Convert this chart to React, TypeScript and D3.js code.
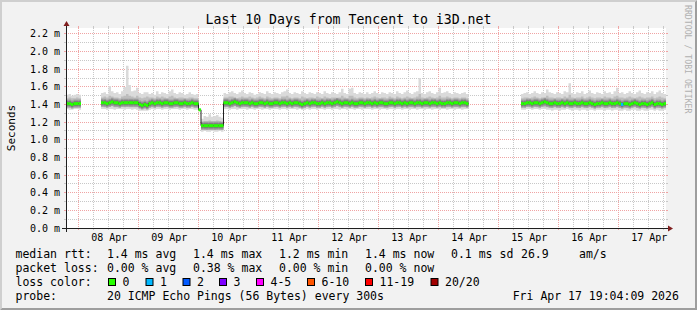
import React from "react";
import * as d3 from "d3";

const N = null;
// hourly slots starting at Apr 7 19:04:09 UTC (values in ms)
const median: (number | null)[] = [
  1.41,1.41,1.40,1.41,1.41,1.41, N,N,N,N,N,N,N,N, 1.42,1.42,1.41,1.42,1.43,1.42,1.42,1.41,1.42,1.42,
  1.42,1.42,1.42,1.42,1.42,1.40,1.39,1.40,1.39,1.41,1.42,1.41,1.42,1.42,1.41,1.42,1.42,1.41,1.41,1.42,1.42,1.41,1.41,1.42,
  1.41,1.41,1.42,1.41,1.41,1.34, 1.16,1.16,1.16,1.16,1.16,1.16,1.16,1.16,1.16, 1.42,1.42,1.41,1.42,1.43,1.42,1.41,1.42,1.42,
  1.42,1.41,1.42,1.41,1.41,1.42,1.42,1.41,1.42,1.41,1.41,1.42,1.42,1.41,1.42,1.42,1.41,1.42,1.41,1.42,1.42,1.41,1.40,1.41,
  1.42,1.41,1.42,1.42,1.41,1.41,1.42,1.41,1.42,1.42,1.41,1.42,1.43,1.42,1.41,1.42,1.42,1.41,1.42,1.41,1.41,1.42,1.42,1.41,
  1.42,1.42,1.41,1.42,1.41,1.42,1.42,1.41,1.41,1.42,1.42,1.41,1.42,1.42,1.41,1.42,1.41,1.42,1.42,1.41,1.42,1.42,1.41,1.42,
  1.42,1.41,1.42,1.42,1.41,1.42,1.41,1.41,1.42,1.42,1.41,1.42,1.42,1.41,1.42,1.42,1.41, N,N,N,N,N,N,N,
  N,N,N,N,N,N,N,N,N,N,N,N,N,N, 1.41,1.41,1.42,1.42,1.41,1.42,1.42,1.41,1.42,1.43,
  1.42,1.41,1.41,1.42,1.41,1.41,1.42,1.41,1.42,1.41,1.41,1.42,1.41,1.41,1.42,1.41,1.41,1.42,1.41,1.40,1.41,1.41,1.42,1.41,
  1.41,1.42,1.41,1.41,1.42,1.41,1.40,1.41,1.41,1.40,1.41,1.42,1.41,1.40,1.41,1.41,1.40,1.41,1.42,1.40,1.41,1.41,1.40,1.41,
];
const smokeMax: (number | null)[] = [
  1.51,1.52,1.50,1.51,1.52,1.51, N,N,N,N,N,N,N,N, 1.53,1.54,1.52,1.61,1.55,1.53,1.54,1.52,1.55,1.60,
  1.84,1.62,1.55,1.56,1.59,1.53,1.52,1.54,1.54,1.52,1.53,1.51,1.55,1.52,1.54,1.53,1.52,1.55,1.57,1.53,1.52,1.54,1.53,1.51,
  1.52,1.54,1.52,1.51,1.52,N, 1.24,1.27,1.26,1.29,1.26,1.27,1.28,1.26,1.25, 1.53,1.52,1.54,1.55,1.53,1.52,1.54,1.56,1.53,
  1.52,1.54,1.53,1.51,1.52,1.54,1.53,1.52,1.55,1.53,1.52,1.54,1.53,1.52,1.54,1.55,1.57,1.53,1.52,1.54,1.53,1.52,1.55,1.53,
  1.52,1.54,1.53,1.52,1.54,1.53,1.52,1.55,1.53,1.52,1.54,1.53,1.52,1.54,1.58,1.53,1.52,1.58,1.59,1.53,1.52,1.54,1.53,1.52,
  1.54,1.52,1.53,1.55,1.53,1.52,1.54,1.53,1.52,1.54,1.53,1.52,1.55,1.53,1.52,1.54,1.56,1.53,1.52,1.54,1.55,1.70,1.53,1.52,
  1.54,1.55,1.53,1.52,1.54,1.59,1.53,1.54,1.55,1.53,1.52,1.54,1.53,1.52,1.53,1.54,1.52, N,N,N,N,N,N,N,
  N,N,N,N,N,N,N,N,N,N,N,N,N,N, 1.52,1.53,1.54,1.52,1.53,1.55,1.53,1.52,1.54,1.53,
  1.57,1.54,1.53,1.52,1.54,1.53,1.52,1.55,1.54,1.64,1.53,1.52,1.54,1.53,1.55,1.52,1.53,1.56,1.53,1.52,1.54,1.53,1.52,1.55,
  1.53,1.54,1.52,1.55,1.59,1.53,1.54,1.52,1.53,1.55,1.53,1.52,1.54,1.56,1.53,1.52,1.54,1.53,1.55,1.52,1.54,1.56,1.53,1.52,
];
const smokeQ3: (number | null)[] = [
  1.47,1.48,1.47,1.47,1.48,1.47, N,N,N,N,N,N,N,N, 1.48,1.49,1.48,1.50,1.49,1.48,1.48,1.47,1.49,1.50,
  1.52,1.50,1.49,1.48,1.50,1.48,1.47,1.48,1.49,1.48,1.48,1.47,1.49,1.48,1.49,1.48,1.47,1.49,1.50,1.48,1.47,1.48,1.48,1.47,
  1.47,1.48,1.48,1.47,1.47,N, 1.20,1.21,1.21,1.22,1.21,1.21,1.22,1.21,1.20, 1.48,1.48,1.49,1.49,1.48,1.47,1.48,1.49,1.48,
  1.48,1.49,1.48,1.47,1.48,1.49,1.48,1.47,1.49,1.48,1.47,1.48,1.48,1.47,1.49,1.49,1.50,1.48,1.47,1.48,1.48,1.47,1.49,1.48,
  1.47,1.48,1.48,1.47,1.49,1.48,1.47,1.49,1.48,1.47,1.48,1.48,1.47,1.48,1.50,1.48,1.47,1.50,1.50,1.48,1.47,1.48,1.48,1.47,
  1.48,1.47,1.48,1.49,1.48,1.47,1.48,1.48,1.47,1.49,1.48,1.47,1.49,1.48,1.47,1.48,1.49,1.48,1.47,1.48,1.49,1.52,1.48,1.47,
  1.48,1.49,1.48,1.47,1.48,1.50,1.48,1.48,1.49,1.48,1.47,1.48,1.48,1.47,1.48,1.48,1.47, N,N,N,N,N,N,N,
  N,N,N,N,N,N,N,N,N,N,N,N,N,N, 1.47,1.48,1.48,1.47,1.48,1.49,1.48,1.47,1.48,1.48,
  1.50,1.48,1.48,1.47,1.48,1.48,1.47,1.49,1.48,1.51,1.48,1.47,1.48,1.48,1.49,1.47,1.48,1.49,1.48,1.47,1.48,1.48,1.47,1.49,
  1.48,1.48,1.47,1.49,1.50,1.48,1.48,1.47,1.48,1.49,1.48,1.47,1.48,1.49,1.48,1.47,1.48,1.48,1.49,1.47,1.48,1.49,1.48,1.47,
];
const smokeQ1: (number | null)[] = [
  1.37,1.37,1.36,1.37,1.37,1.37, N,N,N,N,N,N,N,N, 1.38,1.37,1.37,1.38,1.38,1.37,1.37,1.37,1.38,1.37,
  1.38,1.37,1.37,1.37,1.37,1.36,1.35,1.36,1.35,1.37,1.37,1.37,1.38,1.37,1.37,1.37,1.38,1.37,1.37,1.37,1.38,1.37,1.37,1.37,
  1.37,1.37,1.38,1.37,1.37,N, 1.12,1.12,1.11,1.12,1.12,1.11,1.12,1.12,1.11, 1.37,1.38,1.37,1.37,1.38,1.37,1.37,1.37,1.38,
  1.37,1.37,1.38,1.37,1.37,1.38,1.37,1.37,1.38,1.37,1.37,1.37,1.38,1.37,1.37,1.38,1.37,1.37,1.37,1.38,1.37,1.37,1.36,1.37,
  1.38,1.37,1.37,1.38,1.37,1.37,1.38,1.37,1.37,1.38,1.37,1.37,1.38,1.37,1.37,1.38,1.37,1.37,1.38,1.37,1.37,1.38,1.37,1.37,
  1.37,1.38,1.37,1.37,1.38,1.37,1.37,1.38,1.37,1.37,1.38,1.37,1.37,1.38,1.37,1.37,1.38,1.37,1.37,1.38,1.37,1.37,1.38,1.37,
  1.37,1.38,1.37,1.37,1.38,1.37,1.37,1.38,1.37,1.37,1.38,1.37,1.37,1.38,1.37,1.37,1.38, N,N,N,N,N,N,N,
  N,N,N,N,N,N,N,N,N,N,N,N,N,N, 1.37,1.37,1.38,1.37,1.37,1.38,1.37,1.37,1.38,1.37,
  1.37,1.37,1.36,1.37,1.37,1.36,1.37,1.37,1.38,1.37,1.36,1.37,1.37,1.36,1.37,1.37,1.36,1.37,1.37,1.36,1.37,1.37,1.37,1.36,
  1.37,1.37,1.36,1.37,1.37,1.36,1.36,1.37,1.36,1.36,1.37,1.37,1.36,1.36,1.37,1.36,1.36,1.37,1.37,1.36,1.37,1.36,1.36,1.37,
];
const smokeMin: (number | null)[] = [
  1.35,1.34,1.34,1.35,1.35,1.34, N,N,N,N,N,N,N,N, 1.35,1.35,1.34,1.35,1.35,1.34,1.35,1.35,1.35,1.34,
  1.35,1.35,1.34,1.35,1.34,1.33,1.33,1.33,1.33,1.34,1.35,1.34,1.35,1.35,1.34,1.35,1.35,1.34,1.35,1.35,1.35,1.34,1.35,1.35,
  1.34,1.35,1.35,1.34,1.34,N, 1.09,1.10,1.09,1.09,1.10,1.09,1.09,1.10,1.09, 1.35,1.35,1.34,1.35,1.35,1.34,1.35,1.35,1.35,
  1.34,1.35,1.35,1.34,1.35,1.35,1.34,1.35,1.35,1.34,1.35,1.35,1.35,1.34,1.35,1.35,1.34,1.35,1.35,1.35,1.34,1.35,1.34,1.34,
  1.35,1.34,1.35,1.35,1.34,1.35,1.35,1.34,1.35,1.35,1.34,1.35,1.35,1.34,1.35,1.35,1.34,1.35,1.35,1.34,1.35,1.35,1.34,1.35,
  1.35,1.35,1.34,1.35,1.35,1.34,1.35,1.35,1.34,1.35,1.35,1.34,1.35,1.35,1.34,1.35,1.35,1.34,1.35,1.35,1.34,1.35,1.35,1.34,
  1.35,1.35,1.34,1.35,1.35,1.34,1.35,1.35,1.34,1.35,1.35,1.34,1.35,1.35,1.34,1.35,1.35, N,N,N,N,N,N,N,
  N,N,N,N,N,N,N,N,N,N,N,N,N,N, 1.34,1.34,1.35,1.35,1.34,1.35,1.35,1.34,1.35,1.35,
  1.34,1.34,1.33,1.34,1.34,1.33,1.34,1.34,1.35,1.34,1.33,1.34,1.34,1.33,1.34,1.34,1.33,1.34,1.34,1.33,1.34,1.34,1.34,1.33,
  1.34,1.34,1.33,1.34,1.34,1.33,1.33,1.34,1.33,1.33,1.34,1.34,1.33,1.33,1.34,1.33,1.33,1.34,1.34,1.33,1.34,1.33,1.33,1.34,
];
// sparse loss events: slot index -> lost pings
const lossSlots = [222];
const lossCounts = [1];

const yTicks = [0, 0.2, 0.4, 0.6, 0.8, 1.0, 1.2, 1.4, 1.6, 1.8, 2.0, 2.2];
const yMinorTicks = [0.1, 0.3, 0.5, 0.7, 0.9, 1.1, 1.3, 1.5, 1.7, 1.9, 2.1];
const dayNums = [8, 9, 10, 11, 12, 13, 14, 15, 16, 17];
const dayLabels = ["08 Apr", "09 Apr", "10 Apr", "11 Apr", "12 Apr", "13 Apr", "14 Apr", "15 Apr", "16 Apr", "17 Apr"];

const lossLegendLabels = ["0", "1", "2", "3", "4-5", "6-10", "11-19", "20/20"];
const lossLegendColors = ["#26ff00", "#00b8ff", "#0059ff", "#7e00ff", "#ff00ff", "#ff5500", "#ff0000", "#a10000"];
const lossLegendThresholds = [0, 1, 2, 3, 5, 10, 19, 20];

const rttStats = ["1.4 ms avg", "1.4 ms max", "1.2 ms min", "1.4 ms now", "0.1 ms sd", "26.9", "am/s"];
const lossStats = ["0.00 % avg", "0.38 % max", "0.00 % min", "0.00 % now"];

const START = Date.UTC(2026, 3, 7, 19, 4, 9);
const END = Date.UTC(2026, 3, 17, 19, 4, 9);
const HOUR = 3600e3;

const MONO = "'DejaVu Sans Mono', monospace";

export default function App() {
  const x = d3.scaleUtc().domain([new Date(START), new Date(END)]).range([66, 666]);
  const y = d3.scaleLinear().domain([0, 2.2675]).range([228, 28]);
  const slotX = (k: number) => x(new Date(START + k * HOUR));
  const crisp = (v: number) => Math.floor(v) + 0.5;

  type P = { x: number; a: number; b: number } | null;
  const expand = (lo: (number | null)[], hi: (number | null)[]): P[] => {
    const out: P[] = [];
    lo.forEach((a, k) => {
      const b = hi[k];
      if (a == null || b == null) { out.push(null); return; }
      out.push({ x: slotX(k), a, b });
      out.push({ x: slotX(k + 1), a, b });
    });
    return out;
  };
  const area = d3.area<P>()
    .defined((d) => d != null)
    .x((d) => d!.x)
    .y0((d) => y(d!.a))
    .y1((d) => y(d!.b));
  const line = d3.line<P>()
    .defined((d) => d != null)
    .x((d) => d!.x)
    .y((d) => y(d!.a));

  const lightSmoke = area(expand(smokeMin, smokeMax)) || "";
  const midSmoke = area(expand(smokeQ1, smokeQ3)) || "";
  const medianPath = line(expand(median, median)) || "";

  const lossAt = (k: number) => {
    const i = lossSlots.indexOf(k);
    return i >= 0 ? lossCounts[i] : 0;
  };
  const lossColor = (c: number) => {
    const i = lossLegendThresholds.findIndex((t) => c <= t);
    return lossLegendColors[i < 0 ? lossLegendColors.length - 1 : i];
  };

  const majorTimes = d3.utcDay.range(new Date(START), new Date(END));
  const minorTimes = d3.utcHour.every(6)!.range(new Date(START), new Date(END)).filter((t) => t.getUTCHours() !== 0);

  const gridMinor = "#c8c8c8";
  const gridMajor = "#f0a4a4";

  const legendX = 107;
  const colX = [107, 193, 279, 365, 451, 521, 579];
  const boxX = [108, 145.5, 182.5, 219, 256, 307, 365, 430.5];

  return (
    <svg width={697} height={310} style={{ position: "absolute", left: 0, top: 0 }} fontFamily={MONO}>
      <rect x={0} y={0} width={697} height={310} fill="#f2f2f2" />
      <polygon points="0,0 697,0 695,2 2,2 2,308 0,310" fill="#cfcfcf" />
      <polygon points="697,0 697,310 0,310 2,308 695,308 695,2" fill="#9e9e9e" />
      <rect x={66} y={28} width={600} height={200} fill="#ffffff" />

      {/* minor grid */}
      <g stroke={gridMinor} strokeWidth={1} strokeDasharray="1,1">
        {minorTimes.map((t, i) => (
          <line key={"vm" + i} x1={crisp(x(t))} x2={crisp(x(t))} y1={28} y2={228} />
        ))}
        {yMinorTicks.map((v, i) => (
          <line key={"hm" + i} x1={66} x2={666} y1={crisp(y(v))} y2={crisp(y(v))} />
        ))}
      </g>
      <g stroke={gridMinor} strokeWidth={1}>
        {minorTimes.map((t, i) => (
          <g key={"vmt" + i}>
            <line x1={crisp(x(t))} x2={crisp(x(t))} y1={26} y2={28} />
            <line x1={crisp(x(t))} x2={crisp(x(t))} y1={228} y2={230} />
          </g>
        ))}
        {yMinorTicks.map((v, i) => (
          <g key={"hmt" + i}>
            <line x1={64} x2={66} y1={crisp(y(v))} y2={crisp(y(v))} />
            <line x1={666} x2={668} y1={crisp(y(v))} y2={crisp(y(v))} />
          </g>
        ))}
      </g>
      {/* major grid */}
      <g stroke={gridMajor} strokeWidth={1} strokeDasharray="1,1">
        {majorTimes.map((t, i) => (
          <line key={"vM" + i} x1={crisp(x(t))} x2={crisp(x(t))} y1={28} y2={228} />
        ))}
        {yTicks.slice(1).map((v, i) => (
          <line key={"hM" + i} x1={66} x2={666} y1={crisp(y(v))} y2={crisp(y(v))} />
        ))}
      </g>
      <g stroke={gridMajor} strokeWidth={1}>
        {majorTimes.map((t, i) => (
          <g key={"vMt" + i}>
            <line x1={crisp(x(t))} x2={crisp(x(t))} y1={26} y2={28} />
            <line x1={crisp(x(t))} x2={crisp(x(t))} y1={228} y2={230} />
          </g>
        ))}
        {yTicks.map((v, i) => (
          <g key={"hMt" + i}>
            <line x1={64} x2={66} y1={crisp(y(v))} y2={crisp(y(v))} />
            <line x1={666} x2={668} y1={crisp(y(v))} y2={crisp(y(v))} />
          </g>
        ))}
      </g>

      {/* smoke */}
      <path d={lightSmoke} fill="#dadada" />
      <path d={midSmoke} fill="#bdbdbd" />
      {median.map((v, k) =>
        v == null || smokeMax[k] == null ? null : (
          <rect key={"core" + k} x={slotX(k)} width={slotX(k + 1) - slotX(k)} y={y(v) - 4} height={8} fill="#9a9a9a" />
        )
      )}
      {median.map((v, k) =>
        v == null || smokeMax[k] == null ? null : (
          <rect key={"core2" + k} x={slotX(k)} width={slotX(k + 1) - slotX(k)} y={y(v) - 2.5} height={5} fill="#7a7a7a" />
        )
      )}
      {/* median */}
      <path d={medianPath} fill="none" stroke="#202020" strokeWidth={1} />
      {median.map((v, k) =>
        v == null ? null : (
          <line key={"med" + k} x1={slotX(k)} x2={slotX(k + 1)} y1={y(v)} y2={y(v)}
            stroke={lossColor(lossAt(k))} strokeWidth={3} />
        )
      )}

      {/* axes */}
      <g stroke="#1f1f1f" strokeWidth={1}>
        <line x1={62} x2={670} y1={228.5} y2={228.5} />
        <line x1={66.5} x2={66.5} y1={232} y2={24} />
      </g>
      <polygon points="668,225.5 668,231.5 673,228.5" fill="#801f1f" />
      <polygon points="63.5,26 69.5,26 66.5,21" fill="#801f1f" />

      {/* y labels */}
      <g fontSize={10} fill="#000" textAnchor="end">
        {yTicks.map((v, i) => (
          <text key={"yl" + i} x={60} y={crisp(y(v)) + 3.6}>{d3.format(".1f")(v) + " m"}</text>
        ))}
      </g>
      {/* x labels */}
      <g fontSize={10} fill="#000" textAnchor="middle">
        {dayNums.map((d, i) => (
          <text key={"xl" + i} x={x(new Date(Date.UTC(2026, 3, d, 12))) + 1} y={241}>{dayLabels[i]}</text>
        ))}
      </g>

      <text x={348.5} y={23.5} fontSize={13.2} textAnchor="middle" fill="#000">Last 10 Days from Tencent to i3D.net</text>
      <text transform="translate(15,128) rotate(-90)" fontSize={11} textAnchor="middle" fill="#000">Seconds</text>
      <text transform="translate(685,5) rotate(90)" fontSize={8.2} fill="#b0b0b0">RRDTOOL / TOBI OETIKER</text>

      {/* legend */}
      <g fontSize={11.5} fill="#000">
        <text x={15.5} y={258.3}>median rtt:</text>
        {rttStats.map((s, i) => (
          <text key={"rs" + i} x={colX[i]} y={258.3}>{s}</text>
        ))}
        <text x={15.5} y={272.3}>packet loss:</text>
        {lossStats.map((s, i) => (
          <text key={"ls" + i} x={colX[i]} y={272.3}>{s}</text>
        ))}
        <text x={15.5} y={286.3}>loss color:</text>
        {lossLegendLabels.map((s, i) => (
          <g key={"lc" + i}>
            <rect x={boxX[i] + 0.5} y={278.5} width={7} height={7} fill={lossLegendColors[i]} stroke="#000" strokeWidth={1} />
            <text x={boxX[i] + 14.5} y={286.3}>{s}</text>
          </g>
        ))}
        <text x={15.5} y={300.3}>probe:</text>
        <text x={legendX} y={300.3}>20 ICMP Echo Pings (56 Bytes) every 300s</text>
        <text x={512.7} y={300.3}>Fri Apr 17 19:04:09 2026</text>
      </g>
    </svg>
  );
}
